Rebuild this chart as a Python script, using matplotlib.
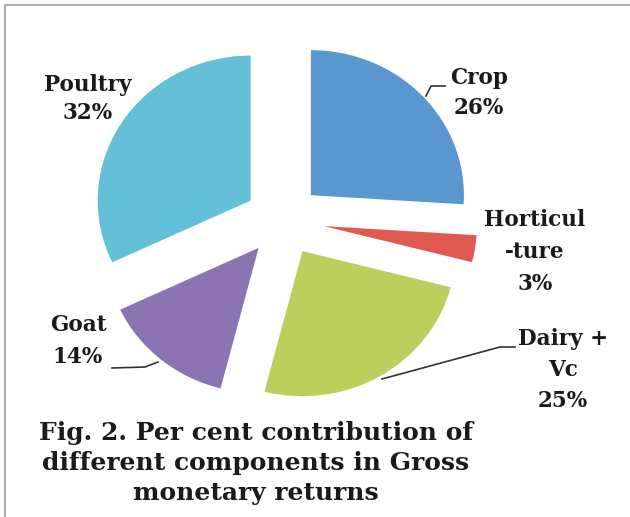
import matplotlib
matplotlib.use("Agg")
import matplotlib.pyplot as plt
from matplotlib.lines import Line2D

labels = ["Crop\n26%", "Horticul\n-ture\n3%", "Dairy +\nVc\n25%", "Goat\n14%", "Poultry\n32%"]
shares = [26, 3, 25, 14, 32]
colors = ["#5a97cf", "#e05a52", "#bccf5c", "#8c74b2", "#63c0d8"]
explode = [0.25, 0.27, 0.25, 0.25, 0.25]
title = "Fig. 2. Per cent contribution of\ndifferent components in Gross\nmonetary returns"

plt.rcParams['font.family'] = ['DejaVu Serif']

fig = plt.figure(figsize=(6.30, 5.17), dpi=100)

# the original picture is a little wider than tall, so the pie gets squashed
k = 153 / 145
R = 153
ax = fig.add_axes([0, 0, 1, 1])
ax.pie(shares, colors=colors, explode=[e * R for e in explode], center=(283, 220 * k),
       radius=R, startangle=-90, counterclock=True, wedgeprops=dict(linewidth=0))
ax.set_aspect('auto')
ax.set_xlim(0, 630)
ax.set_ylim(517 * k, 0)
ax.axis('off')

# overlay in pixel coordinates for the texts and leader lines
tx = fig.add_axes([0, 0, 1, 1])
tx.set_xlim(0, 630)
tx.set_ylim(517, 0)
tx.axis('off')

label_pos = [(479, 93), (535, 252), (563, 370), (78, 341), (88, 99)]
spacing = [1.45, 1.6, 1.55, 1.6, 1.3]
for lab, (x, y), ls in zip(labels, label_pos, spacing):
    tx.text(x, y, lab, ha='center', va='center', fontsize=15.5, fontweight='bold',
            linespacing=ls, color='#1a1a1a')

lc = '#333333'
tx.plot([426, 431, 445], [96, 86, 86], color=lc, lw=1.2)
tx.plot([382, 500, 515], [379, 347, 347], color=lc, lw=1.2)
tx.plot([112, 145, 158], [368, 367, 362], color=lc, lw=1.2)

tx.text(256, 463, title, ha='center', va='center', fontsize=18,
        fontweight='bold', linespacing=1.3, color='#1a1a1a')

# frame around the picture
fig.add_artist(Line2D([5 / 630, 5 / 630], [0, 1 - 5 / 517], color='#b0b0b0', lw=1.5))
fig.add_artist(Line2D([5 / 630, 1], [1 - 5 / 517, 1 - 5 / 517], color='#b0b0b0', lw=1.5))

fig.savefig("out.png", dpi=100)
